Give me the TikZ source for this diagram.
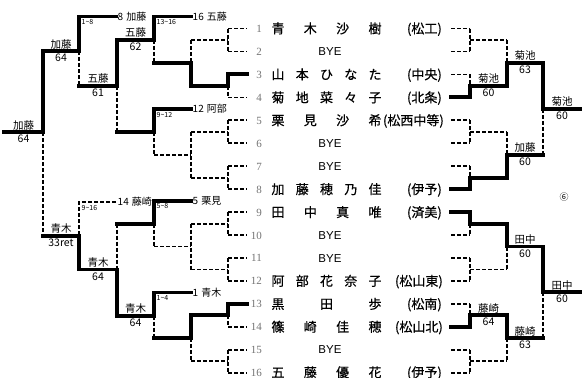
\documentclass[tikz,border=0pt]{standalone}
\usepackage{fontspec}
\setmainfont{Liberation Serif}
\newfontfamily\jp{Noto Sans CJK JP}
\newfontfamily\jpb[FakeBold=0.5]{Noto Sans CJK JP}
\newfontfamily\ser{Liberation Serif}
\newfontfamily\ssf{Liberation Sans}
\newcommand\pn[4]{\foreach \mych [count=\myk] in {#4}{\node[nm] (nm#1c\myk) at ({278+97*(\myk-1)/(#3-1)},#2) {\mych};}}
\begin{document}
\begin{tikzpicture}[x=1pt,y=-1pt,
 win/.style={line width=3.9pt, line cap=rect, line join=miter},
 lose/.style={line width=1.8pt, dash pattern=on 4pt off 2pt},
 nm/.style={font=\jpb\fontsize{13}{13}\selectfont, inner sep=0pt, anchor=base},
 sch/.style={font=\jpb\fontsize{13}{13}\selectfont, inner sep=0pt, anchor=base east},
 num/.style={font=\ser\fontsize{11}{11}\selectfont, text=black!55, inner sep=0pt, anchor=base east},
 bye/.style={font=\ssf\fontsize{11.5}{11.5}\selectfont, inner sep=0pt, anchor=base},
 lbl/.style={font=\jp\fontsize{10.5}{10.5}\selectfont, inner sep=0pt, anchor=base},
 ent/.style={font=\jp\fontsize{10}{10}\selectfont, inner sep=0pt, anchor=base west},
 rng/.style={font=\jp\fontsize{7}{7}\selectfont, inner sep=0pt, anchor=north west},
]
\useasboundingbox (0,0) rectangle (582,378);

% ---------------- left side: dashed ----------------
\foreach \yy in {28.5,51.5,97.4,120.3,143.3,166.2,189.2,212.1,235.1,258.0,280.9,326.8,349.8,372.7}
  \draw[lose] (228,\yy) -- (247,\yy);
\draw[lose] (228,28.5) -- (228,51.5) (191,40) -- (228,40);
\draw[lose] (228,120.3) -- (228,143.3) (191,131.8) -- (228,131.8);
\draw[lose] (228,166.2) -- (228,189.2) (191,177.7) -- (228,177.7);
\draw[lose] (228,212.1) -- (228,235.1) (191,223.6) -- (228,223.6);
\draw[lose] (228,258.0) -- (228,280.9) (191,269.5) -- (228,269.5);
\draw[lose] (228,349.8) -- (228,372.7) (191,361.2) -- (228,361.2);
\draw[lose] (228,85.9) -- (228,97.4);
\draw[lose] (228,315.4) -- (228,326.8);
\draw[lose] (191,40) -- (191,62.9);
\draw[lose] (191,131.8) -- (191,177.7) (154,154.7) -- (191,154.7);
\draw[lose] (191,223.6) -- (191,269.5) (154,246.5) -- (191,246.5);
\draw[lose] (191,338.3) -- (191,361.2);
\draw[lose] (154,39.7) -- (154,62.9);
\draw[lose] (154,131.8) -- (154,154.7);
\draw[lose] (154,223.6) -- (154,246.5);
\draw[lose] (154,315.7) -- (154,338.3);
\draw[lose] (117,85.9) -- (117,131.8);
\draw[lose] (117,223.6) -- (117,269.5);
\draw[lose] (79,51.2) -- (79,85.9);
\draw[lose] (116,202) -- (79,202) -- (79,235.7);
\draw[lose] (43,132) -- (43,235.7);

% ---------------- left side: thick ----------------
\draw[win] (116,16.5) -- (79,16.5) -- (79,51.2) -- (43,51.2) -- (43,132) -- (4,132);
\draw[win] (191,16.5) -- (154,16.5) -- (154,39.7) -- (117,39.7) -- (117,85.9) -- (79,85.9);
\draw[win] (247,74.4) -- (228,74.4) -- (228,85.9) -- (191,85.9) -- (191,62.9) -- (154,62.9);
\draw[win] (191,108.9) -- (154,108.9) -- (154,131.8) -- (117,131.8);
\draw[win] (191,200.7) -- (154,200.7) -- (154,223.6) -- (117,223.6);
\draw[win] (191,292.5) -- (154,292.5) -- (154,315.7) -- (117,315.7) -- (117,269.5) -- (79,269.5) -- (79,235.7) -- (43,235.7);
\draw[win] (247,303.9) -- (228,303.9) -- (228,315.4) -- (191,315.4) -- (191,338.3) -- (154,338.3);

% ---------------- right side: dashed ----------------
\foreach \yy in {28.5,51.5,74.4,120.3,143.3,166.2,235.1,258.0,280.9,303.9,349.8,372.7}
  \draw[lose] (451,\yy) -- (470,\yy);
\draw[lose] (470,28.5) -- (470,51.5) (470,40) -- (507,40);
\draw[lose] (470,120.3) -- (470,143.3) (470,131.8) -- (507,131.8);
\draw[lose] (470,258.0) -- (470,280.9) (470,269.5) -- (507,269.5);
\draw[lose] (470,349.8) -- (470,372.7) (470,361.2) -- (507,361.2);
\draw[lose] (470,74.4) -- (470,85.9);
\draw[lose] (470,166.2) -- (470,177.7);
\draw[lose] (470,223.6) -- (470,235.1);
\draw[lose] (470,303.9) -- (470,315.4);
\draw[lose] (507,40) -- (507,62.9);
\draw[lose] (507,131.8) -- (507,154.7);
\draw[lose] (507,246.5) -- (507,269.5);
\draw[lose] (507,338.3) -- (507,361.2);
\draw[lose] (543,108.8) -- (543,154.7);
\draw[lose] (543,292.4) -- (543,338.3);

% ---------------- right side: thick ----------------
\draw[win] (451,97.4) -- (470,97.4) -- (470,85.9) -- (507,85.9) -- (507,62.9) -- (543,62.9) -- (543,108.8) -- (582,108.8);
\draw[win] (451,189.2) -- (470,189.2) -- (470,177.7) -- (507,177.7) -- (507,154.7) -- (543,154.7);
\draw[win] (451,212.1) -- (470,212.1) -- (470,223.6) -- (507,223.6) -- (507,246.5) -- (543,246.5) -- (543,292.4) -- (582,292.4);
\draw[win] (451,326.8) -- (470,326.8) -- (470,315.4) -- (507,315.4) -- (507,338.3) -- (543,338.3);

% ---------------- draw numbers ----------------
\foreach \yy [count=\nn] in {32.4,55.4,78.3,101.3,124.2,147.2,170.1,193.1,216.0,239.0,261.9,284.8,307.8,330.7,353.7,376.6}
  \node[num] (no\nn) at (262,\yy) {\nn};

% ---------------- names ----------------
\pn{1}{33.4}{4}{青,木,沙,樹}
\node[sch] (s1) at (442,33.4) {(松工)};
\node[bye] (b2) at (330,55.6) {BYE};
\pn{3}{79.3}{5}{山,本,ひ,な,た}
\node[sch] (s3) at (442,79.3) {(中央)};
\pn{4}{102.3}{5}{菊,地,菜,々,子}
\node[sch] (s4) at (442,102.3) {(北条)};
\pn{5}{125.2}{4}{栗,見,沙,希}
\node[sch] (s5) at (444,125.2) {(松西中等)};
\node[bye] (b6) at (330,147.4) {BYE};
\node[bye] (b7) at (330,170.3) {BYE};
\pn{8}{194.1}{5}{加,藤,穂,乃,佳}
\node[sch] (s8) at (442,194.1) {(伊予)};
\pn{9}{217.0}{4}{田,中,真,唯}
\node[sch] (s9) at (442,217.0) {(済美)};
\node[bye] (b10) at (330,239.2) {BYE};
\node[bye] (b11) at (330,262.1) {BYE};
\pn{12}{285.8}{5}{阿,部,花,奈,子}
\node[sch] (s12) at (443,285.8) {(松山東)};
\pn{13}{308.8}{3}{黒,田,歩}
\node[sch] (s13) at (442,308.8) {(松南)};
\pn{14}{331.7}{4}{篠,崎,佳,穂}
\node[sch] (s14) at (443,331.7) {(松山北)};
\node[bye] (b15) at (330,353.9) {BYE};
\pn{16}{377.2}{4}{五,藤,優,花}
\node[sch] (s16) at (442,377.2) {(伊予)};

% ---------------- match labels ----------------
\node[lbl] (la1) at (23.5,129) {加藤};   \node[lbl] (lb1) at (23.5,142.5) {64};
\node[lbl] (la2) at (61,48.2) {加藤};    \node[lbl] (lb2) at (61,61.7) {64};
\node[lbl] (la3) at (98,82.9) {五藤};    \node[lbl] (lb3) at (98,96.4) {61};
\node[lbl] (la4) at (135.5,36.7) {五藤}; \node[lbl] (lb4) at (135.5,50.2) {62};
\node[lbl] (la5) at (61,232.7) {青木};   \node[lbl] (lb5) at (61,246.2) {33ret};
\node[lbl] (la6) at (98,266.5) {青木};   \node[lbl] (lb6) at (98,280) {64};
\node[lbl] (la7) at (135.5,312.7) {青木};\node[lbl] (lb7) at (135.5,326.2) {64};

\node[lbl] (ra1) at (488.5,82.9) {菊池};  \node[lbl] (rb1) at (488.5,96.4) {60};
\node[lbl] (ra2) at (525,59.9) {菊池};    \node[lbl] (rb2) at (525,73.4) {63};
\node[lbl] (ra3) at (562,105.8) {菊池};   \node[lbl] (rb3) at (562,119.3) {60};
\node[lbl] (ra4) at (525,151.7) {加藤};   \node[lbl] (rb4) at (525,165.2) {60};
\node[lbl] (ra5) at (525,243.5) {田中};   \node[lbl] (rb5) at (525,257) {60};
\node[lbl] (ra6) at (562,289.4) {田中};   \node[lbl] (rb6) at (562,302.9) {60};
\node[lbl] (ra7) at (488.5,312.4) {藤崎};  \node[lbl] (rb7) at (488.5,325.9) {64};
\node[lbl] (ra8) at (525,335.3) {藤崎};   \node[lbl] (rb8) at (525,348.8) {63};

% ---------------- entry labels ----------------
\node[ent] (e1) at (117.5,20.2) {8\hspace{3pt}加藤};
\node[ent] (e2) at (192.5,20.2) {16\hspace{3pt}五藤};
\node[ent] (e3) at (192.5,112.6) {12\hspace{3pt}阿部};
\node[ent] (e4) at (117.5,205.7) {14\hspace{3pt}藤崎};
\node[ent] (e5) at (192.5,204.4) {5\hspace{3pt}栗見};
\node[ent] (e6) at (192.5,296.2) {1\hspace{3pt}青木};

% ---------------- range labels ----------------
\node[rng] (g1) at (81.5,19.5) {1\textasciitilde8};
\node[rng] (g2) at (156.5,19.5) {13\textasciitilde16};
\node[rng] (g3) at (156.5,112) {9\textasciitilde12};
\node[rng] (g4) at (81.5,205) {9\textasciitilde16};
\node[rng] (g5) at (156.5,203.7) {5\textasciitilde8};
\node[rng] (g6) at (156.5,295.5) {1\textasciitilde4};

\node[font=\jp\fontsize{9}{9}\selectfont, inner sep=0pt] (m6) at (564,197) {⑥};
\end{tikzpicture}
\end{document}
